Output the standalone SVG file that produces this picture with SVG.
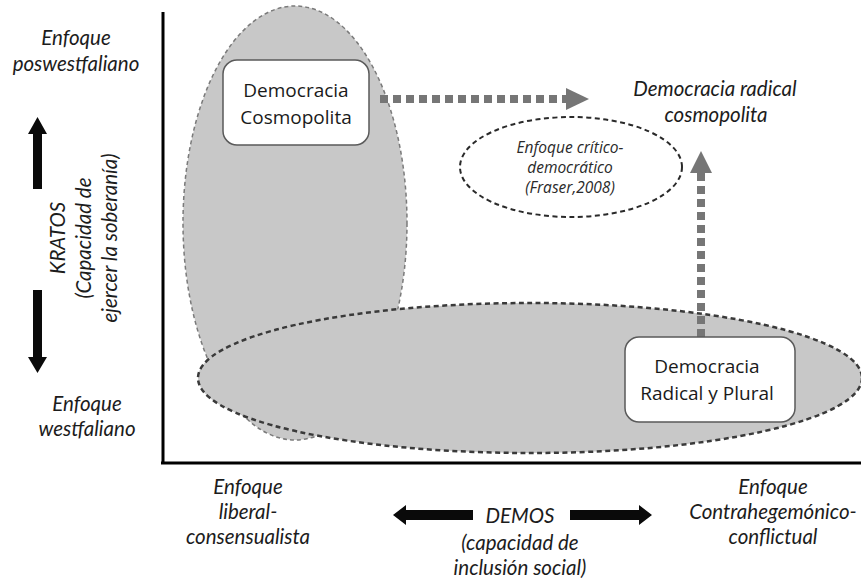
<svg xmlns="http://www.w3.org/2000/svg" width="861" height="583" viewBox="0 0 861 583">
<style>
  .lbl { font-family: Lato, "Open Sans", sans-serif; font-style: italic; font-size: 20.5px; fill: #1c1c1c; text-anchor: middle; }
  .node-text { font-family: "Open Sans", "Noto Sans", sans-serif; font-size: 19px; fill: #1a1a1a; text-anchor: middle; }
  .small { font-family: "Open Sans", "Noto Sans", sans-serif; font-style: italic; font-size: 15.5px; fill: #2a2a2a; text-anchor: middle; }
  .box { fill: #ffffff; stroke: #5a5a5a; stroke-width: 1.5; }
  .dotted { stroke: #767676; stroke-width: 8; stroke-dasharray: 8 5; fill: none; }
  .head { fill: #767676; }
  .blk { fill: #0a0a0a; }
  .axis { stroke: #000; stroke-width: 3; fill: none; }
</style>
<rect width="861" height="583" fill="#ffffff"/>

<g id="region-cosmopolita">
  <ellipse cx="295" cy="223" rx="112" ry="217" fill="#c8c8c8" stroke="#7a7a7a" stroke-width="1.5" stroke-dasharray="4 3"/>
</g>
<g id="region-radical-plural">
  <ellipse cx="530" cy="378" rx="332" ry="75" fill="#c8c8c8" stroke="#3a3a3a" stroke-width="2.5" stroke-dasharray="5 3.5"/>
</g>

<g id="axes">
  <line class="axis" x1="163" y1="12" x2="163" y2="464"/>
  <line class="axis" x1="161" y1="463" x2="861" y2="463"/>
</g>

<g id="connectors">
  <line class="dotted" x1="380" y1="99" x2="566" y2="99"/>
  <polygon class="head" points="566,88 589,99 566,110"/>
  <line class="dotted" x1="701" y1="337" x2="701" y2="173"/>
  <polygon class="head" points="690,173 701,151 712,173"/>
</g>

<g id="node-cosmopolita">
  <rect class="box" x="223" y="60" width="146" height="85" rx="14"/>
  <text class="node-text" x="296" y="97">Democracia</text>
  <text class="node-text" x="296" y="124">Cosmopolita</text>
</g>

<g id="node-radical-plural">
  <rect class="box" x="625" y="337" width="170" height="85" rx="14"/>
  <text class="node-text" x="707" y="373">Democracia</text>
  <text class="node-text" x="707" y="400">Radical y Plural</text>
</g>

<g id="node-critico">
  <ellipse cx="571" cy="167" rx="111" ry="50" fill="none" stroke="#2a2a2a" stroke-width="2" stroke-dasharray="5 3.5"/>
  <text class="small" x="570" y="153">Enfoque crítico-</text>
  <text class="small" x="570" y="173">democrático</text>
  <text class="small" x="570" y="193">(Fraser,2008)</text>
</g>

<g id="node-radical-cosmopolita">
  <text class="lbl" x="715" y="96">Democracia radical</text>
  <text class="lbl" x="716" y="122">cosmopolita</text>
</g>

<g id="label-poswestfaliano">
  <text class="lbl" x="76" y="45">Enfoque</text>
  <text class="lbl" x="76" y="71">poswestfaliano</text>
</g>

<g id="label-westfaliano">
  <text class="lbl" x="87" y="411">Enfoque</text>
  <text class="lbl" x="87" y="436">westfaliano</text>
</g>

<g id="kratos">
  <polygon class="blk" points="33,189 33,134 28,134 37.5,117 47,134 42,134 42,189"/>
  <polygon class="blk" points="33,290 33,357 28,357 37.5,373 47,357 42,357 42,290"/>
  <g transform="translate(65,238) rotate(-90)">
    <text class="lbl" x="0" y="0">KRATOS</text>
    <text class="lbl" x="0" y="26">(Capacidad de</text>
    <text class="lbl" x="0" y="52">ejercer la soberanía)</text>
  </g>
</g>

<g id="label-liberal">
  <text class="lbl" x="248" y="494">Enfoque</text>
  <text class="lbl" x="248" y="519">liberal-</text>
  <text class="lbl" x="248" y="544">consensualista</text>
</g>

<g id="label-contrahegemonico">
  <text class="lbl" x="773" y="494">Enfoque</text>
  <text class="lbl" x="773" y="519">Contrahegemónico-</text>
  <text class="lbl" x="773" y="544">conflictual</text>
</g>

<g id="demos">
  <polygon class="blk" points="473,510 406,510 406,505 393,515 406,525 406,520 473,520"/>
  <polygon class="blk" points="570,510 639,510 639,505 652,515 639,525 639,520 570,520"/>
  <text class="lbl" x="520" y="523">DEMOS</text>
  <text class="lbl" x="520" y="550">(capacidad de</text>
  <text class="lbl" x="520" y="575">inclusión social)</text>
</g>
</svg>
